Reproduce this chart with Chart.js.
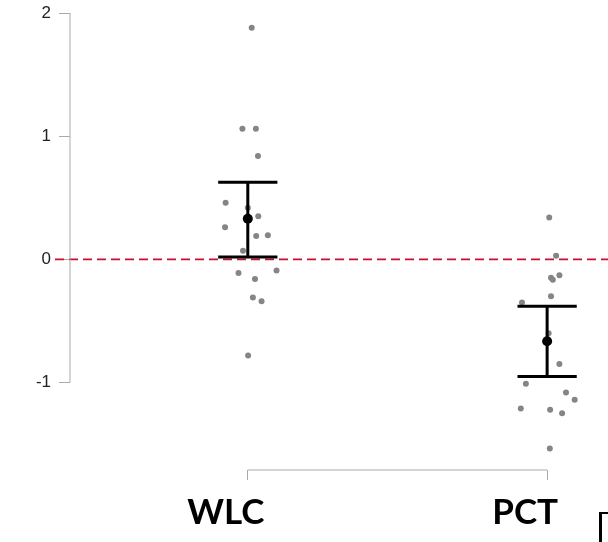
<!DOCTYPE html>
<html>
<head>
<meta charset="utf-8">
<script src="https://cdn.jsdelivr.net/npm/chart.js@4.4.1/dist/chart.umd.min.js"></script>
<style>
  html, body { margin: 0; padding: 0; background: #fff; }
  #wrap { position: relative; width: 608px; height: 542px; overflow: hidden; }
  #edge { position: absolute; left: 599px; top: 512px; width: 20px; height: 40px; border-left: 3px solid #000; border-top: 2px solid #000; }
</style>
</head>
<body>
<div id="wrap">
  <canvas id="myChart" width="608" height="542"></canvas>
  <div id="edge"></div>
</div>
<script>
// groups on the x axis
const categories = ['WLC', 'PCT'];

// individual values per group, with horizontal jitter (in category units)
const wlcValues = [1.88, 1.06, 1.06, 0.84, 0.46, 0.42, 0.35, 0.26, 0.19, 0.195, 0.07, -0.11, -0.09, -0.16, -0.31, -0.34, -0.78];
const wlcJitter = [0.013, -0.018, 0.027, 0.034, -0.074, 0.0, 0.035, -0.076, 0.028, 0.067, -0.016, -0.031, 0.096, 0.024, 0.017, 0.046, 0.001];
const pctValues = [0.34, 0.03, -0.13, -0.15, -0.165, -0.30, -0.35, -0.60, -0.85, -1.01, -1.08, -1.14, -1.21, -1.22, -1.25, -1.535];
const pctJitter = [0.007, 0.03, 0.041, 0.013, 0.019, 0.013, -0.084, 0.005, 0.041, -0.071, 0.063, 0.092, -0.088, 0.01, 0.05, 0.009];

// group means and interval ends
const means = [0.33, -0.665];
const lower = [0.02, -0.95];
const upper = [0.627, -0.38];

const yTicks = [-1, 0, 1, 2];

function pts(vals, jit, pos) {
  return vals.map((v, i) => ({ x: pos + jit[i], y: v }));
}

// zero line, error bars and R-style axis lines
const extras = {
  id: 'extras',
  beforeDatasetsDraw(chart) {
    const { ctx, chartArea, scales } = chart;
    const y0 = scales.y.getPixelForValue(0);
    ctx.save();
    ctx.strokeStyle = '#c8102e';
    ctx.lineWidth = 1.6;
    ctx.setLineDash([9, 5]);
    ctx.beginPath();
    ctx.moveTo(chartArea.left - 15, y0);
    ctx.lineTo(chart.width, y0);
    ctx.stroke();
    ctx.setLineDash([]);
    // y axis line from -1 to 2
    ctx.strokeStyle = '#aaa';
    ctx.lineWidth = 1;
    ctx.beginPath();
    ctx.moveTo(chartArea.left, scales.y.getPixelForValue(yTicks[0]));
    ctx.lineTo(chartArea.left, scales.y.getPixelForValue(yTicks[yTicks.length - 1]));
    ctx.stroke();
    // x axis bracket between the two groups
    ctx.beginPath();
    ctx.moveTo(scales.x.getPixelForValue(1), chartArea.bottom);
    ctx.lineTo(scales.x.getPixelForValue(2), chartArea.bottom);
    ctx.stroke();
    ctx.restore();
  },
  afterDatasetsDraw(chart) {
    const { ctx, scales } = chart;
    ctx.save();
    ctx.strokeStyle = '#000';
    ctx.lineWidth = 3;
    means.forEach((m, i) => {
      const x = scales.x.getPixelForValue(i + 1);
      const xl = scales.x.getPixelForValue(i + 1 - 0.099);
      const xr = scales.x.getPixelForValue(i + 1 + 0.099);
      const yl = scales.y.getPixelForValue(lower[i]);
      const yu = scales.y.getPixelForValue(upper[i]);
      ctx.beginPath();
      ctx.moveTo(x, yl); ctx.lineTo(x, yu);
      ctx.moveTo(xl, yl); ctx.lineTo(xr, yl);
      ctx.moveTo(xl, yu); ctx.lineTo(xr, yu);
      ctx.stroke();
      ctx.fillStyle = '#000';
      ctx.beginPath();
      ctx.arc(x, scales.y.getPixelForValue(m), 5, 0, Math.PI * 2);
      ctx.fill();
    });
    ctx.restore();
  }
};

const ctx = document.getElementById('myChart');
new Chart(ctx, {
  type: 'scatter',
  data: {
    datasets: [
      { label: categories[0], data: pts(wlcValues, wlcJitter, 1), backgroundColor: '#858585', borderWidth: 0, pointRadius: 3 },
      { label: categories[1], data: pts(pctValues, pctJitter, 2), backgroundColor: '#858585', borderWidth: 0, pointRadius: 3 }
    ]
  },
  options: {
    responsive: false,
    animation: false,
    layout: { padding: { top: 13, right: 0, left: 0, bottom: 0 } },
    plugins: { legend: { display: false }, tooltip: { enabled: false } },
    scales: {
      x: {
        type: 'linear',
        min: 0.406,
        max: 2.19,
        afterBuildTicks: (s) => { s.ticks = [{ value: 1 }, { value: 2 }]; },
        afterFit: (s) => { s.height = 72; },
        border: { display: false },
        grid: { display: true, drawOnChartArea: false, drawTicks: true, tickLength: 10, color: '#aaa' },
        ticks: {
          autoSkip: false,
          maxRotation: 0,
          padding: 12,
          labelOffset: -22,
          color: '#000',
          font: { family: 'Lato', size: 35, weight: 'bold' },
          callback: (v) => categories[v - 1]
        }
      },
      y: {
        min: -1.71,
        max: 2,
        afterBuildTicks: (s) => { s.ticks = yTicks.map(v => ({ value: v })); },
        afterFit: (s) => { s.width = 70; s.paddingTop = 0; s.paddingBottom = 0; },
        border: { display: false },
        grid: { display: true, drawOnChartArea: false, drawTicks: true, tickLength: 11, color: '#aaa' },
        ticks: {
          padding: 8,
          color: '#222',
          font: { family: 'Liberation Sans', size: 17 }
        }
      }
    }
  },
  plugins: [extras]
});
</script>
</body>
</html>
